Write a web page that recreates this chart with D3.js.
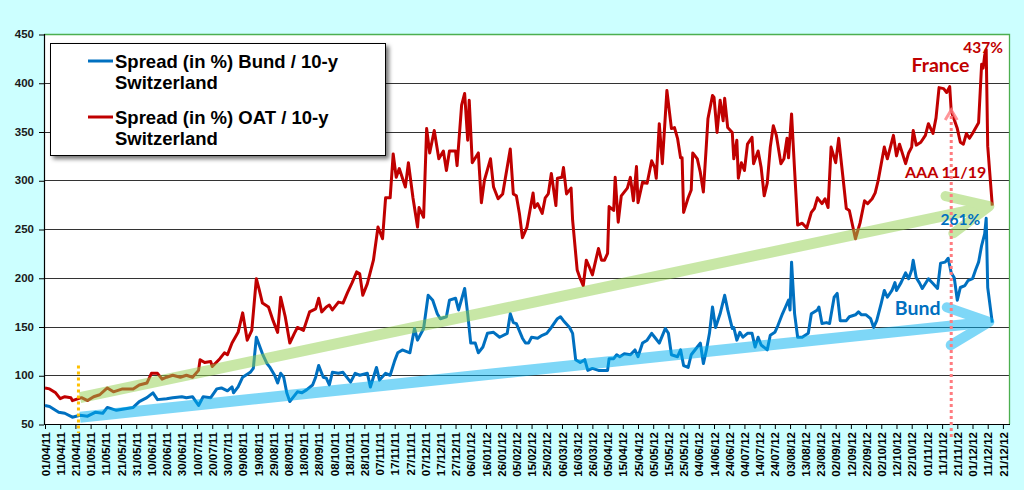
<!DOCTYPE html>
<html>
<head>
<meta charset="utf-8">
<script src="https://cdn.jsdelivr.net/npm/d3@7/dist/d3.min.js"></script>
<style>
html,body{margin:0;padding:0;background:#CCFFFF;}
svg{display:block;}
</style>
</head>
<body>
<svg id="chart" width="1024" height="490"></svg>
<script>
// ---------------- DATA ----------------
const xDomain = ["01/04/11", "25/12/12"];
const yTicks = [50, 100, 150, 200, 250, 300, 350, 400, 450];
const xTickLabels = ["01/04/11","11/04/11","21/04/11","01/05/11","11/05/11","21/05/11","31/05/11","10/06/11","20/06/11","30/06/11","10/07/11","20/07/11","30/07/11","09/08/11","19/08/11","29/08/11","08/09/11","18/09/11","28/09/11","08/10/11","18/10/11","28/10/11","07/11/11","17/11/11","27/11/11","07/12/11","17/12/11","27/12/11","06/01/12","16/01/12","26/01/12","05/02/12","15/02/12","25/02/12","06/03/12","16/03/12","26/03/12","05/04/12","15/04/12","25/04/12","05/05/12","15/05/12","25/05/12","04/06/12","14/06/12","24/06/12","04/07/12","14/07/12","24/07/12","03/08/12","13/08/12","23/08/12","02/09/12","12/09/12","22/09/12","02/10/12","12/10/12","22/10/12","01/11/12","11/11/12","21/11/12","01/12/12","11/12/12","21/12/12"];

const seriesNames = [
  ["Spread (in %) Bund / 10-y", "Switzerland"],
  ["Spread (in %) OAT / 10-y", "Switzerland"]
];

// OAT / Switzerland spread (red)
const oatSeries = [
["01/04/11",87],["04/04/11",86],["08/04/11",82],["11/04/11",76],["14/04/11",78],["18/04/11",77],["19/04/11",74],["25/04/11",77],["29/04/11",74],
["03/05/11",78],["07/05/11",80],["12/05/11",87],["16/05/11",83],["22/05/11",86],["29/05/11",86],["02/06/11",90],["07/06/11",92],["10/06/11",102],
["14/06/11",102],["17/06/11",96],["20/06/11",98],["24/06/11",100],["29/06/11",98],["03/07/11",100],["07/07/11",98],["11/07/11",105],["12/07/11",116],
["15/07/11",113],["19/07/11",114],["20/07/11",109],["25/07/11",117],["28/07/11",123],["30/07/11",121],["02/08/11",133],["06/08/11",144],["09/08/11",164],
["12/08/11",136],["15/08/11",146],["18/08/11",199],["20/08/11",187],["22/08/11",174],["26/08/11",170],["29/08/11",156],["01/09/11",144],["03/09/11",180],
["06/09/11",160],["09/09/11",133],["12/09/11",143],["14/09/11",149],["18/09/11",146],["22/09/11",165],["26/09/11",168],["28/09/11",179],["30/09/11",165],
["03/10/11",170],["05/10/11",172],["07/10/11",167],["11/10/11",175],["14/10/11",174],["17/10/11",185],["20/10/11",195],["23/10/11",206],["25/10/11",204],
["27/10/11",182],["30/10/11",194],["03/11/11",218],["06/11/11",252],["09/11/11",240],["11/11/11",282],["14/11/11",282],["16/11/11",327],["18/11/11",303],
["20/11/11",312],["24/11/11",293],["26/11/11",318],["29/11/11",282],["02/12/11",252],["03/12/11",272],["06/12/11",262],["08/12/11",353],["10/12/11",328],
["13/12/11",351],["16/12/11",322],["19/12/11",330],["21/12/11",310],["23/12/11",330],["27/12/11",330],["28/12/11",315],["31/12/11",377],["02/01/12",389],
["04/01/12",341],["05/01/12",382],["07/01/12",318],["11/01/12",328],["13/01/12",277],["15/01/12",300],["19/01/12",322],["21/01/12",293],["24/01/12",281],
["27/01/12",286],["01/02/12",332],["03/02/12",286],["05/02/12",284],["07/02/12",266],["09/02/12",241],["12/02/12",252],["16/02/12",287],["17/02/12",272],
["19/02/12",276],["22/02/12",266],["24/02/12",282],["26/02/12",286],["28/02/12",307],["02/03/12",274],["03/03/12",302],["06/03/12",303],["07/03/12",313],
["09/03/12",286],["12/03/12",292],["13/03/12",259],["16/03/12",208],["18/03/12",199],["20/03/12",192],["22/03/12",218],["24/03/12",211],["26/03/12",203],
["30/03/12",230],["01/04/12",218],["03/04/12",218],["05/04/12",225],["06/04/12",273],["09/04/12",269],["10/04/12",303],["12/04/12",257],["14/04/12",284],
["18/04/12",292],["20/04/12",303],["22/04/12",279],["24/04/12",314],["25/04/12",277],["28/04/12",298],["01/05/12",297],["04/05/12",320],["06/05/12",313],
["07/05/12",302],["09/05/12",358],["11/05/12",317],["14/05/12",392],["17/05/12",353],["19/05/12",354],["21/05/12",343],["23/05/12",323],["24/05/12",323],
["25/05/12",267],["28/05/12",282],["30/05/12",290],["31/05/12",328],["03/06/12",322],["05/06/12",308],["07/06/12",288],["09/06/12",337],["10/06/12",363],
["13/06/12",387],["14/06/12",385],["16/06/12",349],["18/06/12",382],["20/06/12",361],["21/06/12",384],["23/06/12",354],["26/06/12",349],["27/06/12",322],
["29/06/12",341],["30/06/12",302],["02/07/12",318],["04/07/12",310],["06/07/12",337],["09/07/12",344],["10/07/12",317],["13/07/12",330],["15/07/12",313],
["17/07/12",284],["19/07/12",297],["21/07/12",334],["23/07/12",356],["25/07/12",346],["28/07/12",317],["30/07/12",322],["01/08/12",343],["02/08/12",323],
["04/08/12",368],["06/08/12",310],["08/08/12",254],["11/08/12",256],["14/08/12",251],["17/08/12",267],["19/08/12",271],["21/08/12",282],["24/08/12",276],
["26/08/12",281],["28/08/12",272],["30/08/12",334],["02/09/12",318],["04/09/12",343],["07/09/12",300],["09/09/12",271],["11/09/12",269],["15/09/12",240],
["18/09/12",256],["21/09/12",279],["23/09/12",276],["26/09/12",281],["28/09/12",287],["30/09/12",300],["04/10/12",334],["06/10/12",322],["10/10/12",346],
["12/10/12",325],["14/10/12",337],["18/10/12",317],["20/10/12",328],["22/10/12",334],["23/10/12",351],["25/10/12",336],["28/10/12",339],["31/10/12",346],
["02/11/12",358],["05/11/12",348],["07/11/12",364],["09/11/12",395],["12/11/12",394],["14/11/12",390],["16/11/12",396],["17/11/12",371],["21/11/12",353],
["23/11/12",339],["25/11/12",337],["27/11/12",348],["29/11/12",343],["01/12/12",348],["05/12/12",359],["07/12/12",419],["08/12/12",415],["09/12/12",428],
["10/12/12",434],["11/12/12",335],["14/12/12",274]
];

// Bund / Switzerland spread (blue)
const bundSeries = [
["01/04/11",69],["04/04/11",68],["10/04/11",62],["14/04/11",61],["19/04/11",57],["24/04/11",59],["29/04/11",58],["04/05/11",62],["09/05/11",61],
["12/05/11",67],["18/05/11",64],["25/05/11",66],["29/05/11",67],["02/06/11",73],["07/06/11",77],["11/06/11",82],["14/06/11",75],["20/06/11",76],
["24/06/11",77],["30/06/11",78],["03/07/11",77],["07/07/11",78],["11/07/11",69],["14/07/11",78],["19/07/11",77],["23/07/11",86],["26/07/11",87],
["30/07/11",84],["02/08/11",88],["03/08/11",82],["06/08/11",88],["09/08/11",98],["14/08/11",103],["16/08/11",107],["18/08/11",139],["22/08/11",122],
["25/08/11",112],["27/08/11",108],["30/08/11",100],["01/09/11",92],["03/09/11",102],["05/09/11",98],["07/09/11",82],["09/09/11",73],["11/09/11",77],
["14/09/11",83],["17/09/11",82],["20/09/11",85],["24/09/11",90],["26/09/11",98],["28/09/11",110],["01/10/11",98],["03/10/11",97],["05/10/11",90],
["07/10/11",103],["11/10/11",102],["14/10/11",103],["19/10/11",93],["22/10/11",102],["25/10/11",100],["30/10/11",102],["01/11/11",88],["05/11/11",108],
["07/11/11",95],["11/11/11",102],["14/11/11",100],["17/11/11",115],["19/11/11",123],["22/11/11",126],["27/11/11",123],["30/11/11",148],["02/12/11",136],
["06/12/11",148],["09/12/11",182],["12/12/11",177],["15/12/11",163],["17/12/11",158],["21/12/11",160],["23/12/11",177],["27/12/11",179],["29/12/11",167],
["02/01/12",189],["04/01/12",163],["06/01/12",133],["09/01/12",133],["11/01/12",123],["14/01/12",129],["17/01/12",143],["21/01/12",144],["25/01/12",139],
["30/01/12",143],["01/02/12",163],["03/02/12",154],["05/02/12",153],["09/02/12",138],["11/02/12",133],["13/02/12",133],["15/02/12",139],["19/02/12",138],
["22/02/12",141],["25/02/12",143],["28/02/12",149],["03/03/12",158],["05/03/12",160],["07/03/12",156],["11/03/12",149],["13/03/12",143],["15/03/12",116],
["18/03/12",113],["21/03/12",116],["23/03/12",105],["26/03/12",107],["30/03/12",105],["05/04/12",105],["06/04/12",117],["09/04/12",117],["11/04/12",121],
["13/04/12",119],["16/04/12",122],["20/04/12",121],["23/04/12",126],["25/04/12",119],["28/04/12",133],["01/05/12",136],["04/05/12",143],["06/05/12",139],
["09/05/12",133],["13/05/12",148],["15/05/12",143],["17/05/12",121],["21/05/12",119],["23/05/12",126],["25/05/12",110],["28/05/12",108],["30/05/12",121],
["03/06/12",129],["05/06/12",133],["07/06/12",112],["09/06/12",126],["11/06/12",143],["13/06/12",170],["15/06/12",149],["18/06/12",163],["21/06/12",182],
["23/06/12",167],["26/06/12",148],["27/06/12",149],["29/06/12",136],["01/07/12",144],["03/07/12",139],["06/07/12",143],["09/07/12",143],["11/07/12",129],
["13/07/12",139],["15/07/12",131],["19/07/12",126],["21/07/12",141],["24/07/12",144],["26/07/12",151],["29/07/12",163],["31/07/12",170],["02/08/12",177],
["03/08/12",167],["04/08/12",216],["06/08/12",163],["08/08/12",139],["11/08/12",139],["15/08/12",143],["17/08/12",163],["21/08/12",167],["22/08/12",170],
["24/08/12",153],["27/08/12",154],["29/08/12",153],["01/09/12",180],["03/09/12",184],["05/09/12",156],["09/09/12",156],["11/09/12",160],["15/09/12",162],
["17/09/12",165],["19/09/12",162],["22/09/12",162],["25/09/12",158],["27/09/12",149],["29/09/12",156],["02/10/12",174],["04/10/12",187],["06/10/12",180],
["09/10/12",187],["11/10/12",195],["12/10/12",187],["15/10/12",195],["18/10/12",205],["20/10/12",199],["22/10/12",208],["23/10/12",218],["25/10/12",200],
["27/10/12",195],["29/10/12",189],["02/11/12",199],["05/11/12",194],["08/11/12",189],["10/11/12",215],["13/11/12",216],["15/11/12",220],["17/11/12",205],
["19/11/12",200],["21/11/12",177],["23/11/12",190],["26/11/12",192],["28/11/12",197],["01/12/12",199],["03/12/12",208],["05/12/12",216],["07/12/12",233],
["09/12/12",245],["10/12/12",261],["11/12/12",190],["14/12/12",154]
];

// trend arrows: [start date, start value, end date, end value]
const oatTrend = ["24/04/11", 77, "14/12/12", 274];
const bundTrend = ["24/04/11", 57, "14/12/12", 155];
// marker lines
const startMarker = ["23/04/11", 110];
const downgradeMarker = ["17/11/12", 370];
// annotations: [text, date, value, colour key, font size]
const annotations = [
  ["437%", "21/12/12", 431, "red", 15.5],
  ["France", "29/11/12", 411, "red", 19.5],
  ["AAA 11/19", "10/12/12", 302, "red", 16],
  ["261%", "06/12/12", 254, "blue", 15.5],
  ["Bund", "10/11/12", 161.5, "blue", 19.5]
];

// ---------------- DRAW ----------------
const parse = d3.timeParse("%d/%m/%y");
const fmt = d3.timeFormat("%d/%m/%y");
const RED = "#C00000", BLUE = "#0070C0";
const colours = {red: RED, blue: BLUE};
const FONT = "'Liberation Sans', Arial, sans-serif";
const ANN_FONT = "Lato, 'Liberation Sans', sans-serif";

const P = {left: 44, top: 34, right: 1009, bottom: 424};
const svg = d3.select("#chart");

const x = d3.scaleTime().domain(xDomain.map(parse)).range([P.left + 1, P.right]);
const y = d3.scaleLinear().domain([50, 450]).range([P.bottom, P.top]);

const defs = svg.append("defs");
const f = defs.append("filter").attr("id", "shadow").attr("x", "-10%").attr("y", "-10%").attr("width", "130%").attr("height", "140%");
f.append("feDropShadow").attr("dx", 3).attr("dy", 3).attr("stdDeviation", 2).attr("flood-color", "#000").attr("flood-opacity", 0.55);

// background
svg.append("rect").attr("width", 1024).attr("height", 490).attr("fill", "#CCFFFF");
svg.append("rect").attr("x", P.left).attr("y", P.top).attr("width", P.right - P.left).attr("height", P.bottom - P.top).attr("fill", "#fff");

// gridlines
svg.append("g").selectAll("line").data(yTicks.filter(v => v > 50)).join("line")
  .attr("x1", P.left).attr("x2", P.right)
  .attr("y1", d => Math.round(y(d)) + 0.5).attr("y2", d => Math.round(y(d)) + 0.5)
  .attr("stroke", "#333").attr("stroke-width", 1);

// green frame top/right
svg.append("path")
  .attr("d", `M${P.left},${P.top + 0.5}H${P.right + 0.5}V${P.bottom}`)
  .attr("fill", "none").attr("stroke", "#4CAF50").attr("stroke-width", 1.3);

// y axis
const yAxis = svg.append("g").attr("transform", `translate(${P.left},0)`)
  .call(d3.axisLeft(y).tickValues(yTicks).tickSize(5).tickPadding(5).tickFormat(d3.format("d")));
yAxis.select(".domain").remove();
yAxis.selectAll(".tick line").attr("stroke", "#000").attr("transform", "translate(0,0.5)");
yAxis.selectAll("text").attr("font-family", FONT).attr("font-weight", "bold").attr("font-size", "11.5px").attr("fill", "#1a1a1a");

// x axis
const xAxis = svg.append("g").attr("transform", `translate(0,${P.bottom})`)
  .call(d3.axisBottom(x).tickValues(xTickLabels.map(parse)).tickSize(5).tickFormat(fmt));
xAxis.select(".domain").remove();
xAxis.selectAll(".tick line").attr("stroke", "#000");
xAxis.selectAll("text")
  .attr("font-family", FONT).attr("font-weight", "bold").attr("font-size", "11.5px").attr("fill", "#000")
  .attr("transform", "rotate(-90)")
  .attr("text-anchor", "end")
  .attr("x", -8).attr("y", 0).attr("dy", "0.36em");

// axis lines
svg.append("line").attr("x1", P.left + 0.5).attr("x2", P.left + 0.5).attr("y1", P.top).attr("y2", P.bottom + 0.5).attr("stroke", "#000").attr("stroke-width", 1.2);
svg.append("line").attr("x1", P.left).attr("x2", P.right + 1).attr("y1", P.bottom + 0.5).attr("y2", P.bottom + 0.5).attr("stroke", "#000").attr("stroke-width", 1.2);

// series lines
const line = d3.line().x(d => x(parse(d[0]))).y(d => y(d[1]));
svg.append("path").datum(oatSeries).attr("d", line).attr("fill", "none").attr("stroke", RED).attr("stroke-width", 3).attr("stroke-linejoin", "round");
svg.append("path").datum(bundSeries).attr("d", line).attr("fill", "none").attr("stroke", BLUE).attr("stroke-width", 3).attr("stroke-linejoin", "round");

// trend arrows (open chevron heads)
function trendArrow(t, colour, width) {
  const x0 = x(parse(t[0])), y0 = y(t[1]);
  let x1 = x(parse(t[2])), y1 = y(t[3]);
  const ang = Math.atan2(y1 - y0, x1 - x0);
  x1 -= 3 * Math.cos(ang); y1 -= 3 * Math.sin(ang);
  const L = 45, a = 25 * Math.PI / 180;
  const g = svg.append("g").attr("opacity", 0.5);
  g.append("line").attr("x1", x0).attr("y1", y0)
    .attr("x2", x1 - 4 * Math.cos(ang)).attr("y2", y1 - 4 * Math.sin(ang))
    .attr("stroke", colour).attr("stroke-width", width);
  const ax = x1 - L * Math.cos(ang - a), ay = y1 - L * Math.sin(ang - a);
  const bx = x1 - L * Math.cos(ang + a), by = y1 - L * Math.sin(ang + a);
  g.append("path").attr("d", `M${ax},${ay}L${x1},${y1}L${bx},${by}`)
    .attr("fill", "none").attr("stroke", colour).attr("stroke-width", width - 1)
    .attr("stroke-linecap", "round").attr("stroke-linejoin", "round");
}
trendArrow(oatTrend, "#92D050", 11);
trendArrow(bundTrend, "#00B0F0", 11);

// marker lines
const sx = x(parse(startMarker[0]));
svg.append("line").attr("x1", sx).attr("x2", sx).attr("y1", y(startMarker[1])).attr("y2", P.bottom + 9)
  .attr("stroke", "#FFC000").attr("stroke-width", 3).attr("stroke-dasharray", "3,3");
const dx = x(parse(downgradeMarker[0]));
const dTop = y(downgradeMarker[1]);
svg.append("line").attr("x1", dx).attr("x2", dx).attr("y1", dTop + 4).attr("y2", P.bottom + 16)
  .attr("stroke", "#FF7C80").attr("stroke-width", 3).attr("stroke-dasharray", "3,3");
svg.append("path").attr("d", `M${dx - 6},${dTop + 8}L${dx},${dTop - 2}L${dx + 6},${dTop + 8}`)
  .attr("fill", "none").attr("stroke", "#FF7C80").attr("stroke-width", 3).attr("opacity", 0.8);

// annotations
svg.append("g").selectAll("text").data(annotations).join("text")
  .attr("x", d => x(parse(d[1]))).attr("y", d => y(d[2]))
  .attr("text-anchor", "end")
  .attr("font-family", ANN_FONT).attr("font-weight", "bold")
  .attr("font-size", d => d[4] + "px")
  .attr("fill", d => colours[d[3]])
  .text(d => d[0]);

// legend
const lg = svg.append("g");
lg.append("rect").attr("x", 50.5).attr("y", 43.5).attr("width", 335).attr("height", 112)
  .attr("fill", "#fff").attr("stroke", "#000").attr("stroke-width", 1).attr("filter", "url(#shadow)");
const legendItems = [
  {lines: seriesNames[0], colour: BLUE, y: 61},
  {lines: seriesNames[1], colour: RED, y: 117}
];
legendItems.forEach(it => {
  lg.append("line").attr("x1", 88).attr("x2", 113).attr("y1", it.y).attr("y2", it.y)
    .attr("stroke", it.colour).attr("stroke-width", 3);
  it.lines.forEach((t, i) => {
    lg.append("text").attr("x", 115).attr("y", it.y + 6.5 + i * 21.5)
      .attr("font-family", FONT).attr("font-weight", "bold").attr("font-size", "18.5px")
      .attr("fill", "#000").text(t);
  });
});
</script>
</body>
</html>
